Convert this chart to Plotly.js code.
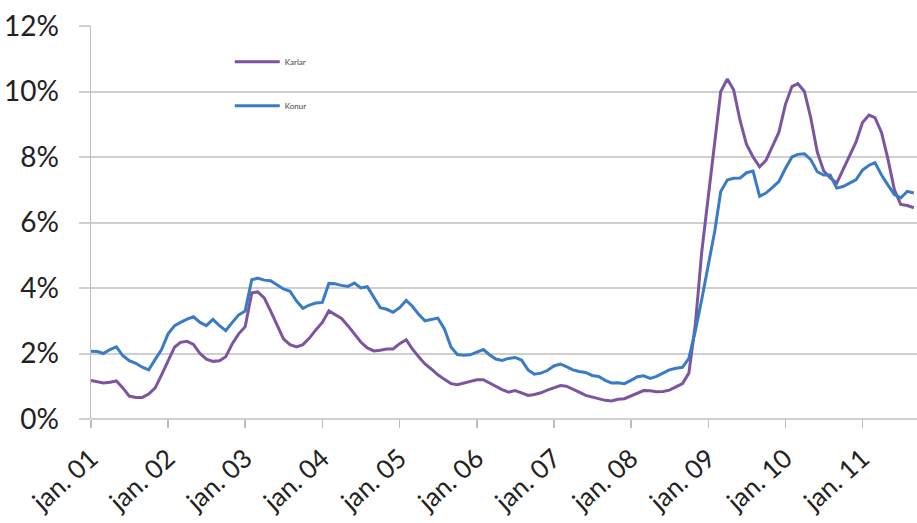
<!DOCTYPE html>
<html>
<head>
<meta charset="utf-8">
<script src="https://cdn.plot.ly/plotly-3.0.1.min.js"></script>
<style>
  html, body { margin: 0; padding: 0; background: #ffffff; }
  #chart { width: 917px; height: 523px; }
</style>
</head>
<body>
<div id="chart"></div>
<script>
// Monthly unemployment rate (%), January 2001 onwards
const startYear = 2001;

const karlar = [
  1.18, 1.15, 1.10, 1.12, 1.16, 0.95, 0.70, 0.66, 0.66, 0.76, 0.95, 1.35,
  1.75, 2.20, 2.34, 2.37, 2.28, 2.00, 1.83, 1.76, 1.78, 1.90, 2.30, 2.60,
  2.82, 3.85, 3.88, 3.70, 3.30, 2.85, 2.45, 2.27, 2.20, 2.27, 2.47, 2.72,
  2.95, 3.30, 3.20, 3.07, 2.85, 2.60, 2.35, 2.17, 2.08, 2.10, 2.14, 2.14,
  2.30, 2.42, 2.15, 1.90, 1.68, 1.52, 1.35, 1.21, 1.08, 1.05, 1.10, 1.14,
  1.20, 1.20, 1.10, 1.00, 0.90, 0.82, 0.87, 0.80, 0.72, 0.75, 0.80, 0.88,
  0.95, 1.02, 1.00, 0.92, 0.82, 0.72, 0.67, 0.63, 0.57, 0.55, 0.60, 0.62,
  0.70, 0.80, 0.87, 0.86, 0.83, 0.84, 0.88, 0.98, 1.08, 1.40, 2.90, 5.10,
  6.80, 8.50, 10.00, 10.38, 10.05, 9.10, 8.38, 8.00, 7.70, 7.90, 8.35, 8.75,
  9.60, 10.15, 10.24, 10.00, 9.20, 8.15, 7.58, 7.36, 7.20, 7.60, 8.05, 8.45,
  9.05, 9.28, 9.20, 8.75, 7.95, 7.00, 6.55, 6.52, 6.45
];

const konur = [
  2.07, 2.06, 2.00, 2.12, 2.20, 1.93, 1.78, 1.70, 1.58, 1.50, 1.82, 2.12,
  2.60, 2.85, 2.95, 3.05, 3.12, 2.95, 2.85, 3.04, 2.85, 2.70, 2.95, 3.18,
  3.30, 4.25, 4.30, 4.24, 4.22, 4.10, 3.97, 3.90, 3.60, 3.38, 3.48, 3.54,
  3.56, 4.14, 4.13, 4.08, 4.05, 4.15, 4.00, 4.04, 3.70, 3.40, 3.35, 3.26,
  3.40, 3.62, 3.45, 3.20, 3.00, 3.03, 3.08, 2.75, 2.20, 1.97, 1.95, 1.96,
  2.05, 2.12, 1.97, 1.83, 1.79, 1.85, 1.88, 1.80, 1.50, 1.37, 1.40, 1.48,
  1.62, 1.68, 1.60, 1.50, 1.45, 1.42, 1.33, 1.30, 1.18, 1.10, 1.11, 1.08,
  1.18, 1.29, 1.32, 1.24, 1.30, 1.40, 1.50, 1.55, 1.58, 1.85, 2.70, 3.65,
  4.70, 5.75, 6.95, 7.30, 7.35, 7.36, 7.52, 7.57, 6.80, 6.90, 7.07, 7.25,
  7.65, 8.00, 8.08, 8.10, 7.92, 7.55, 7.45, 7.45, 7.05, 7.10, 7.20, 7.30,
  7.60, 7.75, 7.83, 7.45, 7.15, 6.85, 6.75, 6.95, 6.90
];

const tickLabels = [
  'jan. 01', 'jan. 02', 'jan. 03', 'jan. 04', 'jan. 05', 'jan. 06',
  'jan. 07', 'jan. 08', 'jan. 09', 'jan. 10', 'jan. 11'
];

const yTickValues = [0, 2, 4, 6, 8, 10, 12];
const yTickLabels = ['0%', '2%', '4%', '6%', '8%', '10%', '12%'];

// One date per month, first day of the month
function monthDates(n) {
  const out = [];
  for (let i = 0; i < n; i++) {
    const y = startYear + Math.floor(i / 12);
    const m = (i % 12) + 1;
    out.push(y + '-' + String(m).padStart(2, '0') + '-01');
  }
  return out;
}
const months = monthDates(karlar.length);
const tickDates = tickLabels.map((_, k) => (startYear + k) + '-01-01');

const gridGrey = '#cfcfcf';
const textColor = '#222222';

const traces = [
  {
    type: 'scatter', mode: 'lines', name: 'Karlar',
    x: months, y: karlar, legendgroup: 'k',
    line: { color: '#7b559f', width: 3 }
  },
  {
    type: 'scatter', mode: 'lines', name: 'Konur',
    x: months, y: konur, legendgroup: 'f',
    line: { color: '#3a7bc6', width: 3 }
  }
];

const layout = {
  width: 917, height: 523,
  margin: { l: 91, r: 0, t: 26, b: 104 },
  paper_bgcolor: '#ffffff', plot_bgcolor: '#ffffff',
  font: { family: 'Lato, "Open Sans", sans-serif', color: textColor },
  showlegend: true,
  legend: {
    x: 0.168, y: 0.946, xanchor: 'left', yanchor: 'top',
    bgcolor: 'rgba(0,0,0,0)', borderwidth: 0,
    font: { size: 8, color: '#444444', family: 'Lato, sans-serif' },
    tracegroupgap: 25, itemwidth: 45, traceorder: 'grouped'
  },
  xaxis: {
    type: 'date',
    range: ['2001-01-01', '2011-09-16'],
    tickvals: tickDates, ticktext: tickLabels,
    tickangle: -42,
    ticks: 'outside', ticklen: 8, tickwidth: 1.5, tickcolor: '#bdbdbd',
    showgrid: false, zeroline: false,
    showline: false,
    ticklabelstandoff: 5,
    tickfont: { size: 26, color: textColor },
    fixedrange: true
  },
  yaxis: {
    range: [0, 12],
    tickvals: yTickValues, ticktext: yTickLabels,
    ticks: 'outside', ticklen: 11, tickwidth: 2, tickcolor: gridGrey,
    showgrid: true, gridcolor: gridGrey, gridwidth: 2,
    zeroline: true, zerolinecolor: gridGrey, zerolinewidth: 2,
    showline: true, linecolor: '#bdbdbd', linewidth: 1.5,
    ticklabelstandoff: 14,
    tickfont: { size: 28, color: textColor },
    fixedrange: true
  }
};

Plotly.newPlot('chart', traces, layout, { staticPlot: true, displayModeBar: false });
</script>
</body>
</html>
